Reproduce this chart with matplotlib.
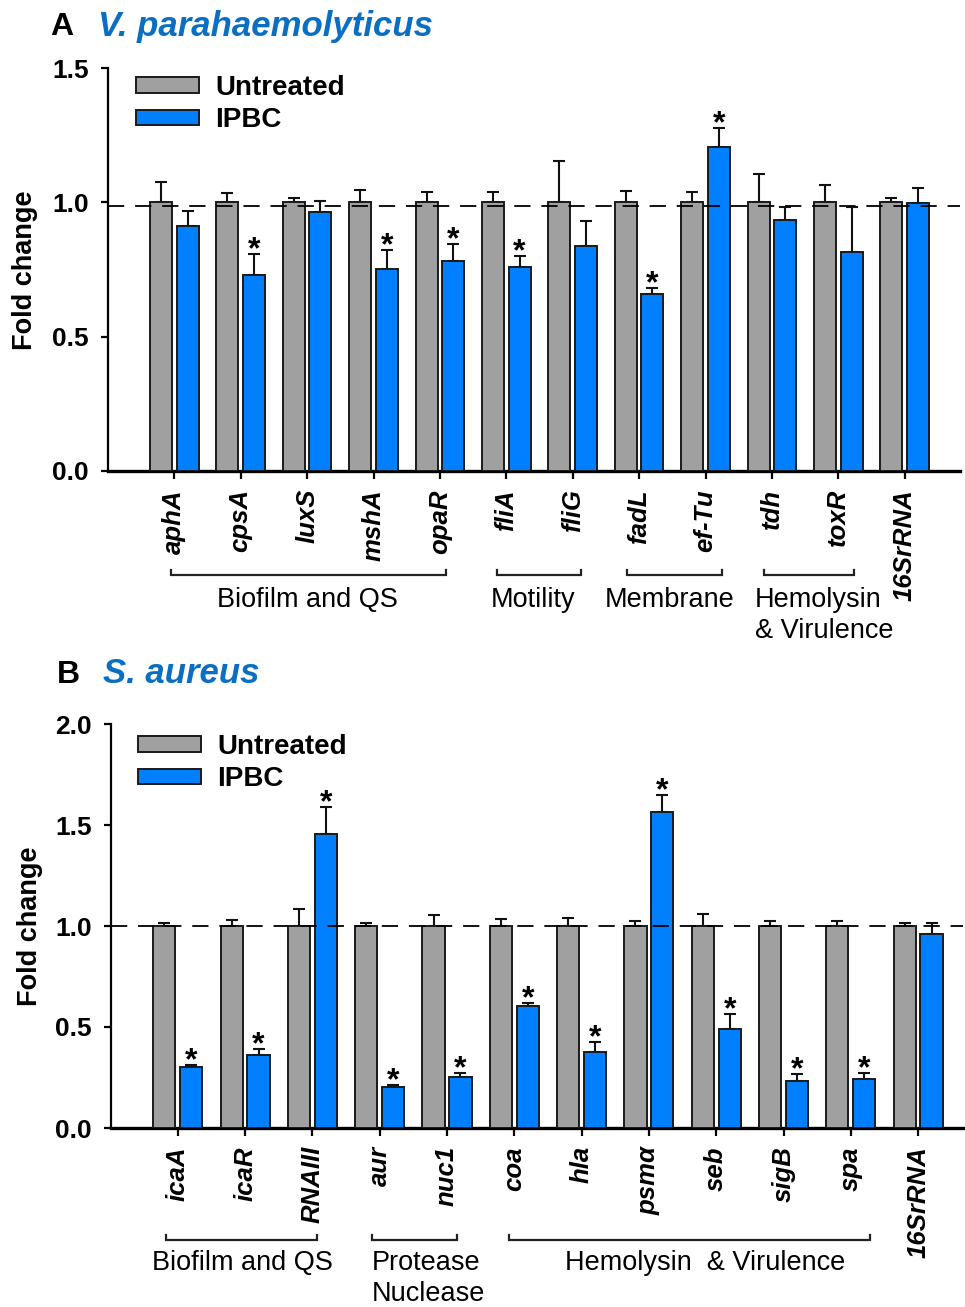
import matplotlib
matplotlib.use('Agg')
import matplotlib.pyplot as plt
import numpy as np
from matplotlib.transforms import blended_transform_factory

plt.rcParams['font.family'] = ['Liberation Sans', 'DejaVu Sans']

# ---------------- Data: Panel A (V. parahaemolyticus) ----------------
genes_a = ['aphA', 'cpsA', 'luxS', 'mshA', 'opaR', 'fliA', 'fliG', 'fadL',
           'ef-Tu', 'tdh', 'toxR', '16SrRNA']
untreated_a = [1.0, 1.0, 1.0, 1.0, 1.0, 1.0, 1.0, 1.0, 1.0, 1.0, 1.0, 1.0]
untreated_err_a = [0.076, 0.035, 0.017, 0.047, 0.039, 0.039, 0.155, 0.041,
                   0.039, 0.104, 0.063, 0.017]
ipbc_a = [0.913, 0.730, 0.964, 0.753, 0.783, 0.760, 0.839, 0.660, 1.207,
          0.936, 0.816, 0.998]
ipbc_err_a = [0.053, 0.076, 0.042, 0.071, 0.062, 0.041, 0.093, 0.020, 0.071,
              0.045, 0.167, 0.054]
sig_a = [False, True, False, True, True, True, False, True, True, False,
         False, False]
groups_a = [('Biofilm and QS', 0, 4), ('Motility', 5, 6), ('Membrane', 7, 8),
            ('Hemolysin\n& Virulence', 9, 10)]

# ---------------- Data: Panel B (S. aureus) ----------------
genes_b = ['icaA', 'icaR', 'RNAIII', 'aur', 'nuc1', 'coa', 'hla', 'psmα',
           'seb', 'sigB', 'spa', '16SrRNA']
untreated_b = [1.0, 1.0, 1.0, 1.0, 1.0, 1.0, 1.0, 1.0, 1.0, 1.0, 1.0, 1.0]
untreated_err_b = [0.013, 0.030, 0.086, 0.013, 0.056, 0.033, 0.041, 0.025,
                   0.061, 0.025, 0.025, 0.013]
ipbc_b = [0.300, 0.363, 1.454, 0.204, 0.254, 0.602, 0.375, 1.563, 0.492,
          0.234, 0.243, 0.962]
ipbc_err_b = [0.010, 0.030, 0.136, 0.010, 0.020, 0.017, 0.049, 0.087, 0.072,
              0.033, 0.028, 0.051]
sig_b = [True, True, True, True, True, True, True, True, True, True, True,
         False]
groups_b = [('Biofilm and QS', 0, 2), ('Protease\nNuclease', 3, 4),
            ('Hemolysin  & Virulence', 5, 10)]

legend_labels = ['Untreated', 'IPBC']

GRAY = '#A0A0A0'
BLUE = '#0080FF'
TITLE_BLUE = '#0A6FC2'

W, H = 965, 1307
fig = plt.figure(figsize=(W / 100, H / 100), dpi=100)


def fx(px):
    return px / W


def fy(py):
    return 1 - py / H


def make_panel(ax_px, xlim, ylim, yticks, genes, unt, unt_err, ipbc,
               ipbc_err, sig, dash_y, leg_anchor):
    left, top, right, bottom = ax_px
    ax = fig.add_axes([fx(left), fy(bottom), (right - left) / W,
                       (bottom - top) / H])
    x = np.arange(len(genes))
    w = 0.33
    off = 0.2
    ekw = dict(ecolor='#111111', elinewidth=1.5, capthick=1.5)
    b1 = ax.bar(x - off, unt, w, color=GRAY, edgecolor='#1a1a1a',
                linewidth=1.4, zorder=3, label=legend_labels[0])
    ax.errorbar(x - off, unt, yerr=[np.zeros(len(unt)), unt_err], fmt='none',
                capsize=4.5, zorder=2, **ekw)
    b2 = ax.bar(x + off, ipbc, w, color=BLUE, edgecolor='#1a1a1a',
                linewidth=1.4, zorder=3, label=legend_labels[1])
    ax.errorbar(x + off, ipbc, yerr=[np.zeros(len(ipbc)), ipbc_err],
                fmt='none', capsize=4.5, zorder=2, **ekw)
    for xi, v, e, s in zip(x, ipbc, ipbc_err, sig):
        if s:
            ax.annotate('*', (xi + off, v + e), xytext=(0, -3),
                        textcoords='offset points', ha='center',
                        va='baseline', fontsize=23, fontweight='bold',
                        zorder=5)
    ax.axhline(dash_y, color='black', linewidth=1.3, dashes=(9, 6), zorder=4)
    ax.set_xlim(*xlim)
    ax.set_ylim(*ylim)
    ax.set_yticks(yticks)
    ax.set_yticklabels([f'{t:.1f}' for t in yticks], fontsize=19,
                       fontweight='bold')
    ax.set_xticks(x)
    ax.set_xticklabels(genes, rotation=90, fontsize=18.5, fontweight='bold',
                       fontstyle='italic', va='top', ha='center')
    for sp in ['top', 'right']:
        ax.spines[sp].set_visible(False)
    ax.spines['left'].set_linewidth(1.6)
    ax.spines['bottom'].set_linewidth(2.4)
    ax.tick_params(axis='y', length=5, width=1.6, pad=9, direction='out')
    ax.tick_params(axis='x', length=6, width=1.6, pad=7, direction='out')
    ax.legend(handles=[b1, b2], labels=legend_labels, loc='upper left',
              bbox_to_anchor=(fx(leg_anchor[0]), fy(leg_anchor[1])),
              bbox_transform=fig.transFigure, frameon=False,
              borderpad=0, borderaxespad=0, handlelength=2.27,
              handleheight=0.47, handletextpad=0.58, labelspacing=0.22,
              prop={'size': 20, 'weight': 'bold'})
    return ax


def add_groups(ax, ax_px, groups, x_px0, spacing, brackets, text_pos,
               y_br, y_text):
    left, top, right, bottom = ax_px
    h = bottom - top
    tr = blended_transform_factory(ax.transData, ax.transAxes)

    def ay(py):
        return (bottom - py) / h

    for (name, i0, i1), (b0, b1), (tx, ha) in zip(groups, brackets, text_pos):
        xa = (b0 - x_px0) / spacing
        xb = (b1 - x_px0) / spacing
        ax.plot([xa, xa, xb, xb], [ay(y_br - 5), ay(y_br), ay(y_br),
                                   ay(y_br - 5)],
                transform=tr, color='#222222', linewidth=1.6, clip_on=False,
                solid_joinstyle='miter')
        ax.text((tx - x_px0) / spacing, ay(y_text), name, transform=tr,
                ha=ha, va='top', fontsize=19.5, linespacing=1.25,
                multialignment='left')


# ---------------- Panel A ----------------
axA_px = (108, 68, 960, 471)
x0A, spA = 174.3, 66.4
axA = make_panel(axA_px, (-(x0A - 108) / spA, (960 - x0A) / spA), (0, 1.5),
                 [0.0, 0.5, 1.0, 1.5], genes_a, untreated_a, untreated_err_a,
                 ipbc_a, ipbc_err_a, sig_a, 0.985, (136, 75))
add_groups(axA, axA_px, groups_a, x0A, spA,
           [(171, 446), (497, 581), (627, 722), (764, 854)],
           [(307, 'center'), (533, 'center'), (670, 'center'),
            (755, 'left')], 575, 587)

# ---------------- Panel B ----------------
axB_px = (111, 724, 963, 1128)
x0B, spB = 177.8, 67.3
axB = make_panel(axB_px, (-(x0B - 111) / spB, (963 - x0B) / spB), (0, 2.0),
                 [0.0, 0.5, 1.0, 1.5, 2.0], genes_b, untreated_b,
                 untreated_err_b, ipbc_b, ipbc_err_b, sig_b, 1.0, (138, 734))
add_groups(axB, axB_px, groups_b, x0B, spB,
           [(166, 317), (372, 457), (509, 870)],
           [(242, 'center'), (372, 'left'), (705, 'center')], 1240, 1250)

# Y labels
fig.text(fx(25), fy(270), 'Fold change', rotation=90, ha='center',
         va='center', fontsize=19.5, fontweight='bold')
fig.text(fx(30), fy(926), 'Fold change', rotation=90, ha='center',
         va='center', fontsize=19.5, fontweight='bold')

# Panel titles
fig.text(fx(50), fy(35), 'A', fontsize=23, fontweight='bold', va='baseline')
fig.text(fx(98), fy(36), 'V. parahaemolyticus', fontsize=25,
         fontweight='bold', fontstyle='italic', color=TITLE_BLUE,
         va='baseline')
fig.text(fx(57), fy(683), 'B', fontsize=23, fontweight='bold', va='baseline')
fig.text(fx(103), fy(683), 'S. aureus', fontsize=25, fontweight='bold',
         fontstyle='italic', color=TITLE_BLUE, va='baseline')

fig.savefig('out.png', dpi=100)
